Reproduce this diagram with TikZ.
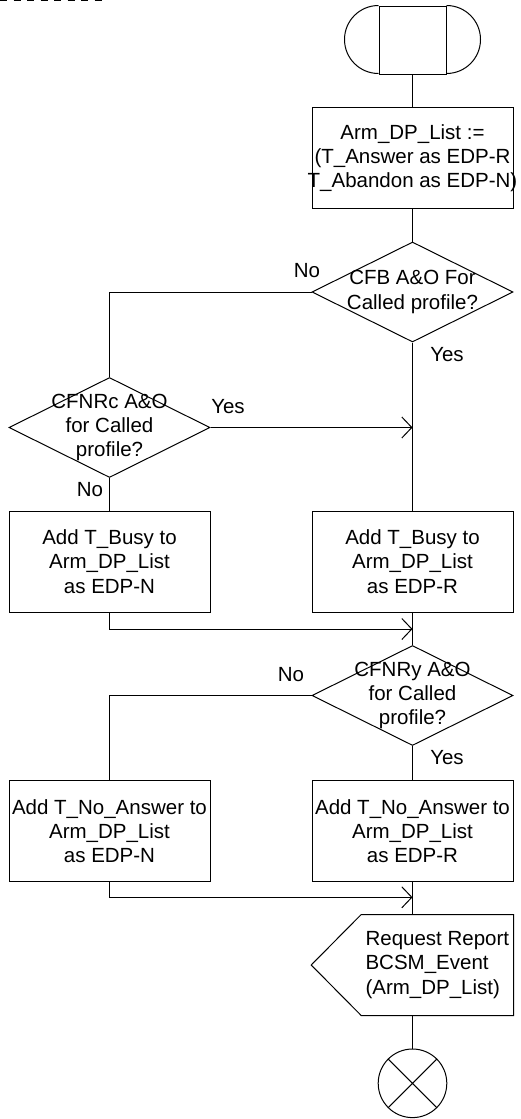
\documentclass[tikz,border=0pt]{standalone}
\usepackage{fontspec}
\setmainfont{Liberation Sans}
\usetikzlibrary{shapes.geometric,arrows.meta}

\begin{document}
\begin{tikzpicture}[
  x=0.5pt, y=-0.5pt, line width=0.5pt,
  every node/.style={font=\fontsize{10.25}{12.1}\selectfont},
  start_state/.style={rectangle,draw,minimum width=33.5pt,minimum height=34pt,inner sep=0pt},
  action/.style={rectangle,draw,minimum width=100.5pt,minimum height=50.5pt,inner xsep=-8pt,inner ysep=0pt,align=center},
  decision/.style={diamond,draw,aspect=2,inner xsep=-25pt,inner ysep=-10pt,minimum width=100.5pt,minimum height=50pt,align=center},
  out_signal/.style={rectangle,minimum width=75.65pt,minimum height=50pt,inner sep=0pt,align=left},
  stop_state/.style={circle,draw,minimum size=34.3pt,inner sep=0pt},
  answer/.style={inner sep=0pt},
  flow_arrow/.style={-{Straight Barb[length=5pt,width=10.5pt]}},
  frame_line/.style={line width=0.8pt,dash pattern=on 3.5pt off 3.25pt}]
    \useasboundingbox (0,0) rectangle (520,1119);
    \draw[frame_line] (0,0.5) -- (108,0.5);
    % Right column
    \node[start_state] (start) at (412.5,40) {};
    \draw (start.north west) arc[start angle=90,end angle=270,radius=17pt];
    \draw (start.north east) arc[start angle=90,end angle=-90,radius=17pt];
    \node[action] (init) at (412.5,158) {Arm\_DP\_List :=\\(T\_Answer as EDP-R\\T\_Abandon as EDP-N)};
    \node[decision] (cfb) at (412.5,292) {CFB A\&O For\\Called profile?};
    \node[action] (busy_r) at (412.5,561.5) {Add T\_Busy to\\Arm\_DP\_List\\as EDP-R};
    \node[decision] (cfnry) at (412.5,695.5) {CFNRy A\&O\\for Called\\profile?};
    \node[action] (noans_r) at (412.5,831) {Add T\_No\_Answer to\\Arm\_DP\_List\\as EDP-R};
    \node[out_signal] (report) at (437.35,965) {Request Report\\BCSM\_Event\\(Arm\_DP\_List)};
    \draw (report.north west) -- (report.north east) -- (report.south east)
      -- (report.south west) -- ([xshift=-25pt]report.west) -- cycle;
    \node[stop_state] (stop) at (412.5,1083.3) {};
    \draw (stop.north west) -- (stop.south east) (stop.north east) -- (stop.south west);
    % Left column
    \node[decision] (cfnrc) at (109.5,427.5) {CFNRc A\&O\\for Called\\profile?};
    \node[action] (busy_n) at (109.5,561.5) {Add T\_Busy to\\Arm\_DP\_List\\as EDP-N};
    \node[action] (noans_n) at (109.5,831) {Add T\_No\_Answer to\\Arm\_DP\_List\\as EDP-N};
    \coordinate (join1) at (412.5,629);
    \coordinate (join2) at (412.5,897.3);
    % Answers
    \node[answer] (no1) at (307,271) {No};
    \node[answer] (yes1) at (447,355) {Yes};
    \node[answer] (yes2) at (228,407) {Yes};
    \node[answer] (no2) at (90,490) {No};
    \node[answer] (no3) at (291,675) {No};
    \node[answer] (yes3) at (447,758) {Yes};
    % Connectors
    \draw (start) -- (init);
    \draw (init) -- (cfb);
    \draw (cfb.west) -| (cfnrc.north);
    \draw (cfb.south) -- (busy_r.north);
    \draw[flow_arrow] (cfnrc.east) -- (cfnrc.east -| cfb.south);
    \draw (cfnrc.south) -- (busy_n.north);
    \draw (busy_r) -- (cfnry);
    \draw[flow_arrow] (busy_n.south) |- (join1);
    \draw (cfnry.west) -| (noans_n.north);
    \draw (cfnry.south) -- (noans_r.north);
    \draw[flow_arrow] (noans_n.south) |- (join2);
    \draw (noans_r.south) -- (noans_r.south |- report.north);
    \draw (stop.north |- report.south) -- (stop.north);
\end{tikzpicture}
\end{document}
